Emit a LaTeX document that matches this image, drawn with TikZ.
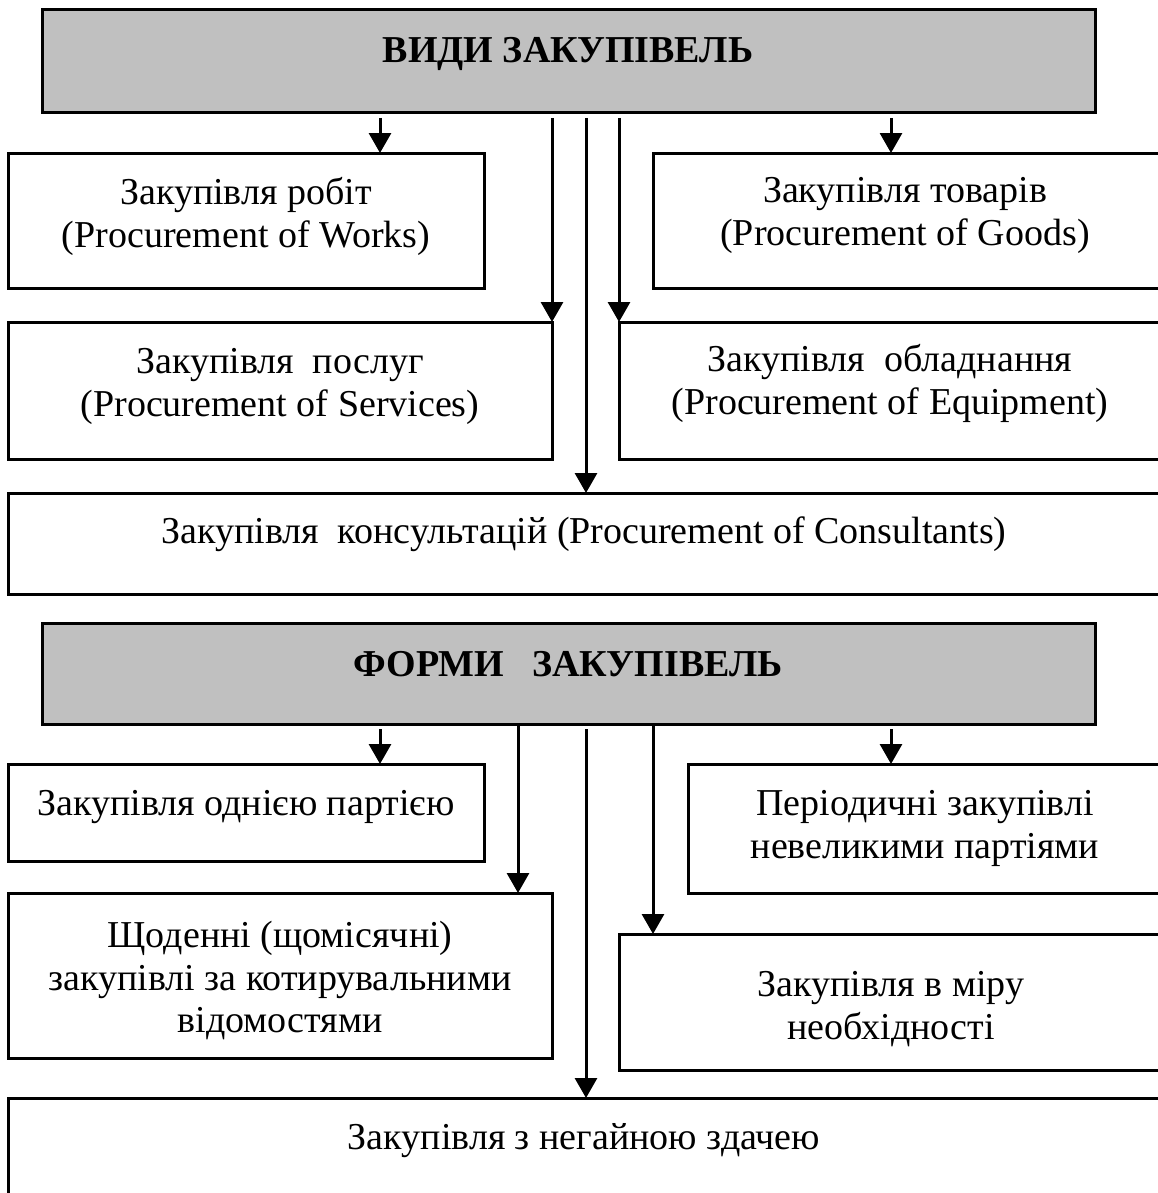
\documentclass[tikz,border=0pt]{standalone}
\usepackage{fontspec}
\setmainfont{Liberation Serif}
\usetikzlibrary{arrows.meta}
\definecolor{headgray}{HTML}{C0C0C0}
\begin{document}
\begin{tikzpicture}[x=0.5pt,y=-0.5pt,
  box/.style={draw, line width=1.5pt, inner sep=0pt, outer sep=0pt, anchor=north west},
  headbox/.style={box, fill=headgray},
  txt/.style={align=center, font=\fontsize{19}{21.25}\selectfont, inner sep=0pt, anchor=north},
  onetxt/.style={font=\fontsize{19}{21.25}\selectfont, inner sep=0pt, anchor=base},
  htxt/.style={font=\fontsize{19}{21.25}\selectfont\bfseries, inner sep=0pt, anchor=base},
  arr/.style={line width=1.5pt, -{Triangle[width=11pt,length=10pt]}}]
\useasboundingbox (0,0) rectangle (1157,1193);

% ---- upper part
\node[headbox, minimum width=526.5pt, minimum height=51.5pt] (vydy) at (42,10) {};
\node[htxt] (vydyt) at (568,63) {ВИДИ ЗАКУПІВЕЛЬ};

\node[box, minimum width=238pt, minimum height=67.5pt] (works) at (8,153) {};
\node[txt] (workst) at (246,177) {Закупівля робіт\\(Procurement of Works)};

\node[box, minimum width=256pt, minimum height=67.5pt] (goods) at (653,153) {};
\node[txt] (goodst) at (905,177) {Закупівля товарів\\(Procurement of Goods)};

\node[box, minimum width=272pt, minimum height=68.5pt] (serv) at (8,322) {};
\node[txt] (servt) at (280,348) {Закупівля\ \ послуг\\(Procurement of Services)};

\node[box, minimum width=273pt, minimum height=68.5pt] (equip) at (619,322) {};
\node[txt] (equipt) at (890,344) {Закупівля\ \ обладнання\\(Procurement of Equipment)};

\node[box, minimum width=578.5pt, minimum height=50.5pt] (cons) at (8,493) {};
\node[onetxt] (const) at (584,543) {Закупівля\ \ консультацій (Procurement of Consultants)};

\draw[arr, shorten <=2.5pt] (380,0 |- vydy.south) -- (380,0 |- works.north);
\draw[arr, shorten <=2.5pt] (552,0 |- vydy.south) -- (serv.north east);
\draw[arr, shorten <=2.5pt] (586,0 |- vydy.south) -- (586,0 |- cons.north);
\draw[arr, shorten <=2.5pt] (619,0 |- vydy.south) -- (equip.north west);
\draw[arr, shorten <=2.5pt] (891,0 |- vydy.south) -- (891,0 |- goods.north);

% ---- lower part
\node[headbox, minimum width=526.5pt, minimum height=50.5pt] (form) at (42,623) {};
\node[htxt] (formt) at (568,676) {ФОРМИ\ \ \ ЗАКУПІВЕЛЬ};

\node[box, minimum width=238pt, minimum height=48.5pt] (once) at (8,764) {};
\node[onetxt] (oncet) at (246,815) {Закупівля однією партією};

\node[box, minimum width=238.5pt, minimum height=64.5pt] (period) at (688,764) {};
\node[txt] (periodt) at (925,790) {Періодичні закупівлі\\невеликими партіями};

\node[box, minimum width=272pt, minimum height=82.5pt] (daily) at (8,893) {};
\node[txt] (dailyt) at (280,921) {Щоденні (щомісячні)\\закупівлі за котирувальними\\відомостями};

\node[box, minimum width=273pt, minimum height=68pt] (need) at (619,934) {};
\node[txt] (needt) at (891,971) {Закупівля в міру\\необхідності};

\node[box, minimum width=578.5pt, minimum height=53.5pt] (immed) at (8,1098) {};
\node[onetxt] (immedt) at (584,1149) {Закупівля з негайною здачею};

\draw[arr, shorten <=2.5pt] (380,0 |- form.south) -- (380,0 |- once.north);
\draw[arr] (518,0 |- form.south) -- (518,0 |- daily.north);
\draw[arr, shorten <=2.5pt] (586,0 |- form.south) -- (586,0 |- immed.north);
\draw[arr] (653,0 |- form.south) -- (653,0 |- need.north);
\draw[arr, shorten <=2.5pt] (891,0 |- form.south) -- (891,0 |- period.north);
\end{tikzpicture}
\end{document}
